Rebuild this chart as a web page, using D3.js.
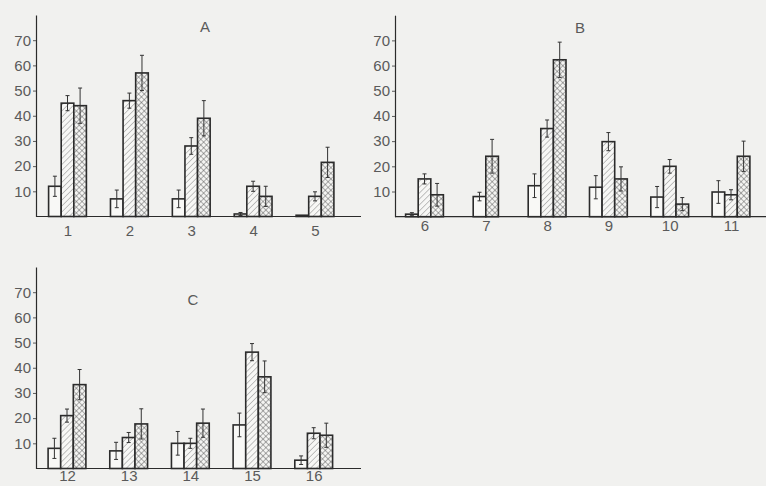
<!DOCTYPE html>
<html><head><meta charset="utf-8">
<script src="https://cdn.jsdelivr.net/npm/d3@7"></script>
<style>html,body{margin:0;padding:0;background:#f1f1ef;} svg{display:block;}</style>
</head><body><svg id="chart" width="766" height="486"></svg>
<script>
// ---------- data ----------
const yTicks = [10, 20, 30, 40, 50, 60, 70];
const seriesKeys = ["open", "hatch", "cross"];

const catsA = ["1", "2", "3", "4", "5"];
const openA = [12, 7, 7, 1, 0.5];
const openErrA = [4, 3.5, 3.5, 0.6, 0];
const hatchA = [45, 46, 28, 12, 8];
const hatchErrA = [3, 3, 3.3, 2, 1.8];
const crossA = [44, 57, 39, 8, 21.5];
const crossErrA = [7, 7, 7, 4, 6];

const catsB = ["6", "7", "8", "9", "10", "11"];
const openB = [1, 8, 12.3, 11.7, 7.8, 9.8];
const openErrB = [0.6, 1.7, 4.7, 4.6, 4.2, 4.5];
const hatchB = [15, null, 35, 29.8, 20, 8.7];
const hatchErrB = [2, null, 3.4, 3.6, 2.7, 2];
const crossB = [8.7, 24, 62.3, 15, 5, 24];
const crossErrB = [4.5, 6.7, 7, 4.8, 2.6, 6];

const catsC = ["12", "13", "14", "15", "16"];
const openC = [8, 7, 10, 17.3, 3.3];
const openErrC = [4, 3.4, 4.7, 4.7, 1.7];
const hatchC = [21, 12.3, 10, 46.2, 14];
const hatchErrC = [2.6, 2, 2, 3.4, 2.2];
const crossC = [33.3, 17.7, 18, 36.4, 13.2];
const crossErrC = [6, 6, 5.6, 6.3, 4.8];

// ---------- layout ----------
const FONT = "'Liberation Sans', Arial, sans-serif";
const TEXT = "#5a5a5a";
const INK = "#2b2b2b";
const BW = 12.6;

const panels = [
  { title: "A", cats: catsA, vals: [openA, hatchA, crossA], errs: [openErrA, hatchErrA, crossErrA],
    axisX: 36, axisEnd: 361, baseY: 216.5, c0: 67.5, c1: 315, titleX: 205, titleY: 32, labPad: 8.8 },
  { title: "B", cats: catsB, vals: [openB, hatchB, crossB], errs: [openErrB, hatchErrB, crossErrB],
    axisX: 395, axisEnd: 766, baseY: 216.7, c0: 424.5, c1: 731, titleX: 580, titleY: 32.5, labPad: 3.8 },
  { title: "C", cats: catsC, vals: [openC, hatchC, crossC], errs: [openErrC, hatchErrC, crossErrC],
    axisX: 36, axisEnd: 361, baseY: 468.5, c0: 67, c1: 313.7, titleX: 193, titleY: 305, labPad: 2.2 }
];

const svg = d3.select("#chart");
const defs = svg.append("defs");

// diagonal hatch "/"
const ph = defs.append("pattern").attr("id", "hatch").attr("patternUnits", "userSpaceOnUse")
  .attr("width", 4.2).attr("height", 4.2).attr("patternTransform", "rotate(45)");
ph.append("rect").attr("width", 4.2).attr("height", 4.2).attr("fill", "#f7f7f5");
ph.append("line").attr("x1", 0).attr("y1", 0).attr("x2", 0).attr("y2", 4.2)
  .attr("stroke", "#8a8a8a").attr("stroke-width", 1);

// cross hatch
const pc = defs.append("pattern").attr("id", "cross").attr("patternUnits", "userSpaceOnUse")
  .attr("width", 4).attr("height", 4).attr("patternTransform", "rotate(45)");
pc.append("rect").attr("width", 4).attr("height", 4).attr("fill", "#f4f4f2");
pc.append("line").attr("x1", 0).attr("y1", 0).attr("x2", 0).attr("y2", 4)
  .attr("stroke", "#505050").attr("stroke-width", 0.9);
pc.append("line").attr("x1", 0).attr("y1", 0).attr("x2", 4).attr("y2", 0)
  .attr("stroke", "#505050").attr("stroke-width", 0.9);

const fills = { open: "#f8f8f6", hatch: "url(#hatch)", cross: "url(#cross)" };

panels.forEach(p => {
  const g = svg.append("g");
  const y = d3.scaleLinear().domain([0, 80]).range([p.baseY, p.baseY - 201.5]);
  const x = d3.scalePoint().domain(p.cats).range([p.c0, p.c1]);

  // y axis
  const ya = g.append("g").attr("transform", `translate(${p.axisX},0)`)
    .call(d3.axisLeft(y).tickValues(yTicks).tickSize(3).tickSizeOuter(0).tickPadding(2));
  ya.select(".domain").attr("stroke", INK).attr("stroke-width", 1.2);
  ya.selectAll(".tick line").attr("stroke", TEXT).attr("stroke-width", 1);
  ya.selectAll(".tick text").attr("fill", TEXT).style("font-family", FONT).style("font-size", "15px");

  // x baseline
  g.append("line").attr("x1", p.axisX).attr("x2", p.axisEnd)
    .attr("y1", y(0)).attr("y2", y(0)).attr("stroke", INK).attr("stroke-width", 1.2);

  // category labels
  const xa = g.append("g").attr("transform", `translate(0,${y(0)})`)
    .call(d3.axisBottom(x).tickSize(0).tickPadding(p.labPad));
  xa.select(".domain").remove();
  xa.selectAll(".tick text").attr("fill", TEXT).style("font-family", FONT).style("font-size", "15px");

  // title
  g.append("text").attr("x", p.titleX).attr("y", p.titleY).attr("text-anchor", "middle")
    .attr("fill", TEXT).style("font-family", FONT).style("font-size", "15px").text(p.title);

  // bars
  p.cats.forEach((c, i) => {
    const present = seriesKeys.map((k, s) => ({ k, v: p.vals[s][i], e: p.errs[s][i] }))
      .filter(d => d.v !== null);
    const start = x(c) - present.length * BW / 2;
    present.forEach((d, j) => {
      const bx = start + j * BW;
      g.append("rect").attr("x", bx).attr("y", y(d.v)).attr("width", BW)
        .attr("height", y(0) - y(d.v)).attr("fill", fills[d.k])
        .attr("stroke", INK).attr("stroke-width", 1.6);
      if (d.e > 0) {
        const cx = bx + BW / 2;
        const lo = y(Math.max(0, d.v - d.e)), hi = y(d.v + d.e);
        g.append("line").attr("x1", cx).attr("x2", cx).attr("y1", lo).attr("y2", hi)
          .attr("stroke", "#333").attr("stroke-width", 1);
        [lo, hi].forEach(yy => g.append("line").attr("x1", cx - 2).attr("x2", cx + 2)
          .attr("y1", yy).attr("y2", yy).attr("stroke", "#333").attr("stroke-width", 1));
      }
    });
  });
});
</script>
</body></html>
